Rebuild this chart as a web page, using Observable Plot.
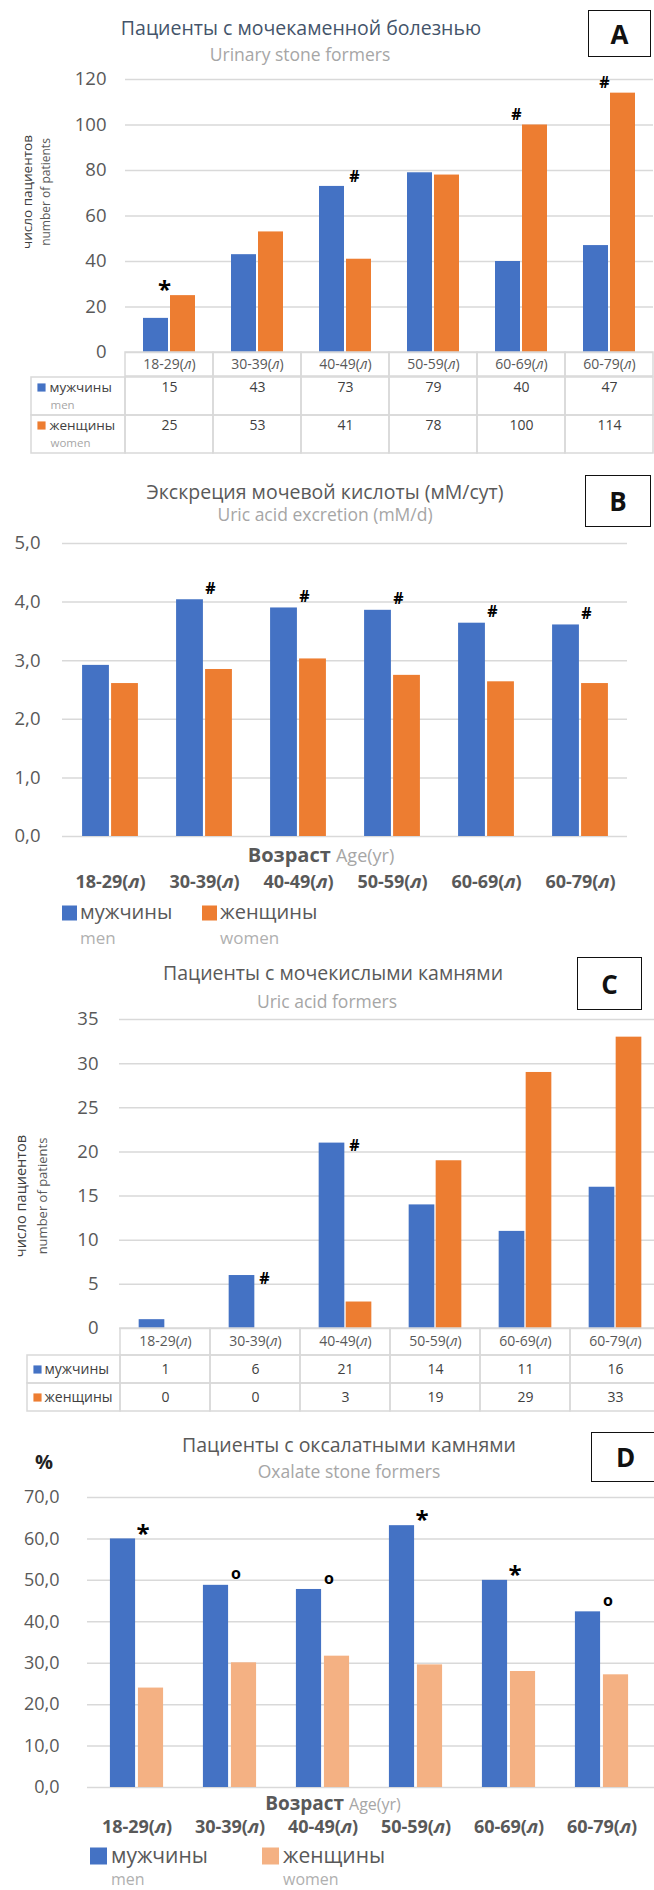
<!DOCTYPE html>
<html><head><meta charset="utf-8">
<script src="https://cdn.jsdelivr.net/npm/d3@7"></script>
<script src="https://cdn.jsdelivr.net/npm/@observablehq/plot@0.6"></script>
<style>
html,body{margin:0;padding:0;background:#fff;overflow:hidden;}
#page{position:relative;width:654px;height:1890px;overflow:hidden;font-family:"Open Sans",sans-serif;background:#fff;}
#page svg{max-width:none !important;overflow:visible;}
.lbl{position:absolute;white-space:nowrap;line-height:1;}
.box{position:absolute;border:1.6px solid #111;box-sizing:border-box;display:flex;align-items:center;justify-content:center;font-weight:bold;font-size:26px;color:#111;}
</style>
</head><body><div id="page"></div>
<script>
// ---------- data ----------
const ages = ["18-29(л)", "30-39(л)", "40-49(л)", "50-59(л)", "60-69(л)", "60-79(л)"];
// A: urinary stone formers (number of patients)
const stoneMen = [15, 43, 73, 79, 40, 47];
const stoneWomen = [25, 53, 41, 78, 100, 114];
// B: uric acid excretion (mM/d)
const excretionMen = [2.92, 4.04, 3.90, 3.86, 3.64, 3.61];
const excretionWomen = [2.61, 2.85, 3.03, 2.75, 2.64, 2.61];
// C: uric acid formers (number of patients)
const uricMen = [1, 6, 21, 14, 11, 16];
const uricWomen = [0, 0, 3, 19, 29, 33];
// D: oxalate stone formers (%)
const oxalateMen = [60.0, 48.8, 47.8, 63.2, 50.0, 42.4];
const oxalateWomen = [24.0, 30.1, 31.7, 29.6, 28.0, 27.2];
// tick values
const ticksA = [0, 20, 40, 60, 80, 100, 120];
const ticksB = [0, 1, 2, 3, 4, 5];
const ticksC = [0, 5, 10, 15, 20, 25, 30, 35];
const ticksD = [0, 10, 20, 30, 40, 50, 60, 70];
// significance marks
const annA = [
  {age: "18-29(л)", sex: "women", sym: "*"},
  {age: "40-49(л)", sex: "men", sym: "#"},
  {age: "60-69(л)", sex: "women", sym: "#"},
  {age: "60-79(л)", sex: "women", sym: "#"}
];
const annB = ["30-39(л)", "40-49(л)", "50-59(л)", "60-69(л)", "60-79(л)"].map(a => ({age: a, sex: "men", sym: "#"}));
const annC = [
  {age: "30-39(л)", sex: "men", sym: "#"},
  {age: "40-49(л)", sex: "men", sym: "#"}
];
const annD = [
  {age: "18-29(л)", sex: "men", sym: "*"},
  {age: "30-39(л)", sex: "men", sym: "o"},
  {age: "40-49(л)", sex: "men", sym: "o"},
  {age: "50-59(л)", sex: "men", sym: "*"},
  {age: "60-69(л)", sex: "men", sym: "*"},
  {age: "60-79(л)", sex: "men", sym: "o"}
];

// ---------- style ----------
const FONT = '"Open Sans", sans-serif';
const BLUE = "#4472c4", ORANGE = "#ed7d31", PEACH = "#f4b183";
const GRID = "#d9d9d9", TICK = "#595959", DARK = "#404040", LIGHT = "#a6a6a6";
const page = document.getElementById("page");

function place(node, left, top) {
  const d = document.createElement("div");
  d.style.cssText = `position:absolute;left:${left}px;top:${top}px;`;
  d.appendChild(node);
  page.appendChild(d);
  return d;
}
function text(html, x, y, css, anchor = "center") {
  const d = document.createElement("div");
  d.className = "lbl";
  d.innerHTML = html;
  const tx = anchor === "center" ? "-50%" : anchor === "end" ? "-100%" : "0";
  d.style.cssText += `left:${x}px;top:${y}px;transform:translate(${tx},-50%);${css}`;
  page.appendChild(d);
  return d;
}
function box(letter, x1, y1, x2, y2) {
  const d = document.createElement("div");
  d.className = "box";
  d.textContent = letter;
  d.style.left = x1 + "px"; d.style.top = y1 + "px";
  d.style.width = (x2 - x1) + "px"; d.style.height = (y2 - y1) + "px";
  page.appendChild(d);
}
function italicL(svg) {
  d3.select(svg).selectAll("text").each(function () {
    const nodes = this.childElementCount ? Array.from(this.querySelectorAll("tspan")) : [this];
    nodes.forEach(node => {
      const t = node.textContent, i = t.indexOf("(л)");
      if (i < 0) return;
      node.textContent = "";
      const s = d3.select(node);
      s.append("tspan").text(t.slice(0, i + 1));
      s.append("tspan").attr("font-style", "italic").text("л");
      s.append("tspan").text(t.slice(i + 2));
    });
  });
}

function barChart(o) {
  const rows = ages.flatMap((a, i) => [
    {age: a, sex: "men", v: o.men[i]},
    {age: a, sex: "women", v: o.women[i]}
  ]);
  const val = new Map(rows.map(r => [r.age + "|" + r.sex, r.v]));
  const ann = o.ann.map(a => ({...a, v: val.get(a.age + "|" + a.sex)}));
  const bw = (o.width - o.ml - o.mr) / ages.length;
  const half = bw / 2, g = o.gap / 2;
  const symSize = s => s === "*" ? 24 : 16;
  const symShift = s => s === "*" ? 5 : s === "o" ? -1 : 0;
  const marks = [
    Plot.ruleY(o.ticks, {y: d => d, stroke: GRID, strokeWidth: 1.5, insetRight: o.gridInsetRight || 0}),
    Plot.axisY(o.ticks, {tickSize: 0, tickPadding: o.tickPad, tickFormat: o.fmt, fontSize: o.fs, label: null}),
    Plot.barY(rows.filter(r => r.sex === "men"), {x: "age", y: "v", fill: BLUE, insetLeft: half - g - o.barW, insetRight: half + g}),
    Plot.barY(rows.filter(r => r.sex === "women"), {x: "age", y: "v", fill: o.womenColor, insetLeft: half + g, insetRight: half - g - o.barW}),
    Plot.text(ann.filter(a => a.sex === "men"), {x: "age", y: "v", text: "sym", fontSize: d => symSize(d.sym), fontWeight: "bold", fill: "#000",
      dx: o.dxMen}),
    Plot.text(ann.filter(a => a.sex === "women"), {x: "age", y: "v", text: "sym", fontSize: d => symSize(d.sym), fontWeight: "bold", fill: "#000",
      dx: o.dxWomen || 0})
  ];
  if (o.xAxis) {
    marks.push(Plot.axisX(ages, {tickSize: 0, tickPadding: o.xAxis.pad, fontSize: o.xAxis.fs, fontWeight: "bold", label: null}));
  }
  const svg = Plot.plot({
    width: o.width, height: o.height,
    marginTop: o.mt, marginBottom: o.mb, marginLeft: o.ml, marginRight: o.mr,
    x: {type: "band", domain: ages, padding: 0, axis: null},
    y: {domain: [0, o.ticks[o.ticks.length - 1]], axis: null},
    style: {fontFamily: FONT, color: TICK, background: "transparent", overflow: "visible"},
    marks
  });
  // vertical offsets of the significance symbols (above bar tops)
  d3.select(svg).selectAll("g[aria-label='text'] text").each(function () {
    const t = this.textContent;
    const dy = (o.annDy || 0) + symShift(t);
    const tr = this.getAttribute("transform") || "";
    this.setAttribute("transform", tr + ` translate(0,${dy})`);
  });
  italicL(svg);
  return svg;
}

function table(o) {
  const bw = (o.width - o.ml - o.mr) / ages.length;
  const LAB = "·";
  const x = {type: "band", domain: [LAB, ...ages], padding: 0, range: [o.ml - bw, o.width - o.mr], axis: null};
  const base = {fontFamily: FONT, color: TICK, background: "transparent", overflow: "visible"};
  const header = Plot.plot({
    width: o.width, height: o.headH, margin: 0, x,
    y: {type: "band", domain: ["h"], padding: 0, range: [0, o.headH], axis: null},
    style: base,
    marks: [
      Plot.cell(ages, {x: d => d, y: () => "h", fill: "none", stroke: GRID, strokeWidth: 1.5}),
      Plot.text(ages, {x: d => d, y: () => "h", text: d => d, fontSize: o.fs, fill: TICK})
    ]
  });
  italicL(header);
  const rows = o.rows;
  const cells = rows.flatMap(r => ages.map((a, i) => ({age: a, key: r.key, v: r.values[i]})));
  const h = o.rowH * rows.length;
  const body = Plot.plot({
    width: o.width, height: h, margin: 0, x,
    y: {type: "band", domain: rows.map(r => r.key), padding: 0, range: [0, h], axis: null},
    color: {type: "identity"},
    style: base,
    marks: [
      Plot.cell(cells, {x: "age", y: "key", fill: "none", stroke: GRID, strokeWidth: 1.5}),
      Plot.cell(rows, {x: () => LAB, y: "key", fill: "none", stroke: GRID, strokeWidth: 1.5, insetLeft: -o.labExtra}),
      Plot.text(cells, {x: "age", y: "key", text: "v", fontSize: o.fs, fill: DARK, dy: o.valDy}),
      Plot.dot(rows, {x: () => LAB, y: "key", symbol: "square", r: 4.6, fill: "color", stroke: null, dx: o.sqDx, dy: o.valDy}),
      Plot.text(rows, {x: () => LAB, y: "key", text: "label", textAnchor: "start", fontSize: o.labFs, fill: DARK, dx: o.labDx, dy: o.valDy}),
      Plot.text(rows.filter(r => r.sub), {x: () => LAB, y: "key", text: "sub", textAnchor: "start", fontSize: o.subFs, fill: LIGHT, dx: o.labDx + 1, dy: o.subDy, letterSpacing: "0.6px"})
    ]
  });
  return {header, body};
}

// ---------- Panel A ----------
text("Пациенты с мочекаменной болезнью", 301, 28, "font-size:19.5px;color:#44546a;");
text("Urinary stone formers", 300, 55, "font-size:17.5px;color:#a6a6a6;");
box("A", 588, 10, 651, 57);
text("число пациентов", 28, 192, "font-size:13.5px;color:#404040;transform:translate(-50%,-50%) rotate(-90deg);");
text("number of patients", 46, 192, "font-size:12px;color:#595959;transform:translate(-50%,-50%) rotate(-90deg);");
place(barChart({men: stoneMen, women: stoneWomen, ticks: ticksA, width: 654, height: 292, mt: 19, mb: 0, ml: 125, mr: 1,
  barW: 25, gap: 2, womenColor: ORANGE, fmt: d => String(d), tickPad: 19, fs: 18.5, ann: annA,
  dxMen: 9, dxWomen: -5, annDy: -10}), 0, 60);
const tA = table({width: 654, ml: 125, mr: 1, headH: 24, rowH: 38.5, fs: 14, labFs: 13.5, subFs: 11.5, labExtra: 6,
  sqDx: -40, labDx: -32, valDy: -9, subDy: 8.5,
  rows: [
    {key: "men", label: "мужчины", sub: "men", color: BLUE, values: stoneMen},
    {key: "women", label: "женщины", sub: "women", color: ORANGE, values: stoneWomen}
  ]});
place(tA.header, 0, 352);
place(tA.body, 0, 376);

// ---------- Panel B ----------
text("Экскреция мочевой кислоты (мМ/сут)", 325, 492, "font-size:19.5px;color:#595959;");
text("Uric acid excretion (mM/d)", 325, 515, "font-size:17.5px;color:#a6a6a6;");
box("B", 585, 475, 651, 527);
const comma = d => d.toFixed(1).replace(".", ",");
place(barChart({men: excretionMen, women: excretionWomen, ticks: ticksB, width: 654, height: 376, mt: 23, mb: 60, ml: 62, mr: 27,
  barW: 27, gap: 2, womenColor: ORANGE, fmt: comma, tickPad: 22, fs: 18.5, ann: annB,
  dxMen: 6, annDy: -11, xAxis: {pad: 39, fs: 18}}), 0, 520);
text('<b style="color:#595959">Возраст</b> <span style="color:#a6a6a6;font-size:18px">Age(yr)</span>', 321, 855, "font-size:20px;");
text("", 62, 913, `width:15px;height:15px;background:${BLUE};`, "start");
text("мужчины", 80, 912, "font-size:20px;color:#595959;", "start");
text("men", 80, 937, "font-size:17px;color:#b0b0b0;", "start");
text("", 202, 913, `width:15px;height:15px;background:${ORANGE};`, "start");
text("женщины", 220, 912, "font-size:20px;color:#595959;", "start");
text("women", 220, 937, "font-size:17px;color:#b0b0b0;", "start");

// ---------- Panel C ----------
text("Пациенты с мочекислыми камнями", 333, 973, "font-size:19.5px;color:#595959;");
text("Uric acid formers", 327, 1002, "font-size:17.5px;color:#a6a6a6;");
box("C", 577, 957, 642, 1010);
text("число пациентов", 21, 1196, "font-size:14.5px;color:#404040;transform:translate(-50%,-50%) rotate(-90deg);");
text("number of patients", 42, 1196, "font-size:13px;color:#595959;transform:translate(-50%,-50%) rotate(-90deg);");
place(barChart({men: uricMen, women: uricWomen, ticks: ticksC, width: 662, height: 328, mt: 19, mb: 0, ml: 119, mr: 1,
  barW: 26, gap: 1, womenColor: ORANGE, fmt: d => String(d), tickPad: 21, fs: 18.5, ann: annC,
  dxMen: 9, annDy: 3}), 0, 1000);
const tC = table({width: 662, ml: 119, mr: 1, headH: 27, rowH: 28, fs: 14, labFs: 14, subFs: 12, labExtra: 3,
  sqDx: -38, labDx: -31, valDy: 0, subDy: 0,
  rows: [
    {key: "men", label: "мужчины", color: BLUE, values: uricMen},
    {key: "women", label: "женщины", color: ORANGE, values: uricWomen}
  ]});
place(tC.header, 0, 1328);
place(tC.body, 0, 1355);

// ---------- Panel D ----------
text("Пациенты с оксалатными камнями", 349, 1445, "font-size:19.5px;color:#595959;");
text("Oxalate stone formers", 349, 1472, "font-size:17.5px;color:#a6a6a6;");
box("D", 591, 1432, 660, 1482);
text("%", 44, 1462, "font-size:20px;font-weight:bold;color:#222;");
place(barChart({men: oxalateMen, women: oxalateWomen, ticks: ticksD, width: 654, height: 357, mt: 17, mb: 50, ml: 87, mr: 4,
  barW: 26, gap: 2, womenColor: PEACH, fmt: comma, tickPad: 28, fs: 18, ann: annD, gridInsetRight: -4,
  dxMen: 6, annDy: -10, xAxis: {pad: 33, fs: 18}}), 0, 1480);
text('<b style="color:#595959">Возраст</b> <span style="color:#a6a6a6;font-size:16px">Age(yr)</span>', 333, 1803, "font-size:19px;");
text("", 90, 1856, `width:17px;height:17px;background:${BLUE};`, "start");
text("мужчины", 111, 1855, "font-size:21px;color:#595959;", "start");
text("men", 111, 1879, "font-size:16px;color:#b0b0b0;", "start");
text("", 262, 1856, `width:17px;height:17px;background:${PEACH};`, "start");
text("женщины", 283, 1855, "font-size:21px;color:#595959;", "start");
text("women", 283, 1879, "font-size:16px;color:#b0b0b0;", "start");
</script>
</body></html>
